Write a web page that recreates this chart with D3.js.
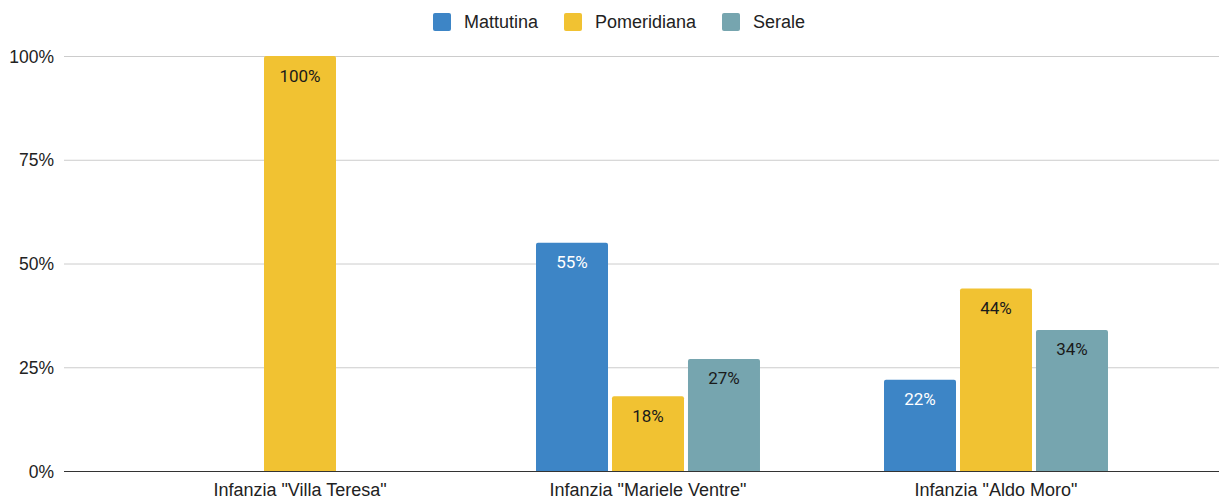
<!DOCTYPE html>
<html>
<head>
<meta charset="utf-8">
<script src="https://cdn.jsdelivr.net/npm/d3@7"></script>
<style>
  body { margin: 0; background: #fff; }
  text { font-family: "Liberation Sans", Arial, sans-serif; }
  text.value { font-family: Roboto, "Noto Sans", sans-serif; }
</style>
</head>
<body>
<div class="chart"></div>
<script>
// data
var categories = ['Infanzia "Villa Teresa"', 'Infanzia "Mariele Ventre"', 'Infanzia "Aldo Moro"'];
var seriesNames = ["Mattutina", "Pomeridiana", "Serale"];
var mattutina = [null, 0.55, 0.22];
var pomeridiana = [1.00, 0.18, 0.44];
var serale = [null, 0.27, 0.34];
var yTicks = [0, 0.25, 0.5, 0.75, 1];

var colors = ["#3d85c6", "#f1c232", "#76a5af"];
var labelColors = ["#ffffff", "#1a1a1a", "#1a1a1a"];

var svgWidth = 1219, svgHeight = 500;
var plotLeft = 64, plotRight = 1219, plotTop = 56, plotBottom = 471;

var svg = d3.select(".chart").append("svg")
  .attr("width", svgWidth)
  .attr("height", svgHeight);

var rows = [];
var seriesValues = [mattutina, pomeridiana, serale];
categories.forEach(function (c, i) {
  seriesNames.forEach(function (s, j) {
    if (seriesValues[j][i] != null) rows.push({ cat: c, series: s, idx: j, value: seriesValues[j][i] });
  });
});

var x0 = d3.scaleBand().domain(categories).range([126, 1170]).padding(0);
var x1 = d3.scaleBand().domain(seriesNames).range([0, x0.bandwidth()])
  .paddingInner(0.0526).paddingOuter(0.816);
var y = d3.scaleLinear().domain([0, 1]).range([plotBottom, plotTop]);

// gridlines
svg.append("g").selectAll("line")
  .data(yTicks.filter(d => d > 0))
  .enter().append("line")
  .attr("x1", plotLeft).attr("x2", plotRight)
  .attr("y1", d => y(d) + 0.5).attr("y2", d => y(d) + 0.5)
  .attr("stroke", "#cccccc").attr("stroke-width", 1);

// y tick labels
svg.append("g").selectAll("text")
  .data(yTicks)
  .enter().append("text")
  .attr("x", 54)
  .attr("y", d => y(d) + 6.5)
  .attr("text-anchor", "end")
  .attr("font-size", 17.5)
  .attr("fill", "#222")
  .text(d => d3.format(".0%")(d));

// bars with small rounded tops
function barPath(xL, w, yT, yB, r) {
  return "M" + xL + "," + yB +
    "V" + (yT + r) +
    "Q" + xL + "," + yT + " " + (xL + r) + "," + yT +
    "H" + (xL + w - r) +
    "Q" + (xL + w) + "," + yT + " " + (xL + w) + "," + (yT + r) +
    "V" + yB + "Z";
}

svg.append("g").selectAll("path")
  .data(rows)
  .enter().append("path")
  .attr("d", d => barPath(x0(d.cat) + x1(d.series), x1.bandwidth(), y(d.value), y(0), 2))
  .attr("fill", d => colors[d.idx]);

// value labels
svg.append("g").selectAll("text")
  .data(rows)
  .enter().append("text")
  .attr("class", "value")
  .attr("x", d => x0(d.cat) + x1(d.series) + x1.bandwidth() / 2)
  .attr("y", d => y(d.value) + 25.5)
  .attr("text-anchor", "middle")
  .attr("font-size", 17)
  .attr("fill", d => labelColors[d.idx])
  .text(d => d3.format(".0%")(d.value));

// baseline
svg.append("line")
  .attr("x1", plotLeft).attr("x2", plotRight)
  .attr("y1", y(0) + 0.5).attr("y2", y(0) + 0.5)
  .attr("stroke", "#333").attr("stroke-width", 1);

// x labels
svg.append("g").selectAll("text")
  .data(categories)
  .enter().append("text")
  .attr("x", d => x0(d) + x0.bandwidth() / 2)
  .attr("y", 495.5)
  .attr("text-anchor", "middle")
  .attr("font-size", 18)
  .attr("fill", "#222")
  .text(d => d);

// legend
var legendX = [433, 564, 722];
var legend = svg.append("g").selectAll("g")
  .data(seriesNames)
  .enter().append("g")
  .attr("transform", (d, i) => `translate(${legendX[i]}, 13)`);
legend.append("rect")
  .attr("width", 18).attr("height", 18).attr("rx", 2)
  .attr("fill", (d, i) => colors[i]);
legend.append("text")
  .attr("x", 31).attr("y", 15)
  .attr("font-size", 18)
  .attr("fill", "#222")
  .text(d => d);
</script>
</body>
</html>
